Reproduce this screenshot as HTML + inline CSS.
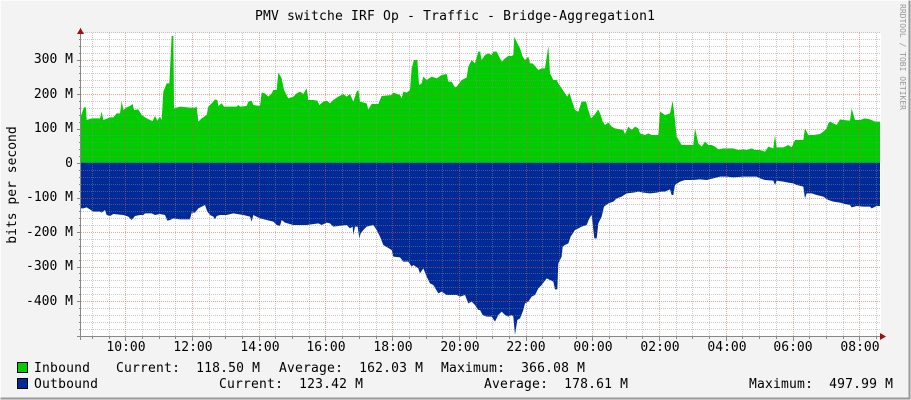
<!DOCTYPE html>
<html><head><meta charset="utf-8"><style>
html,body{margin:0;padding:0;background:#f3f3f3}
svg{display:block}
text{font-family:"DejaVu Sans Mono","Liberation Mono",monospace;font-size:13px;fill:#000;white-space:pre}
</style></head><body>
<svg width="911" height="400" viewBox="0 0 911 400" xmlns="http://www.w3.org/2000/svg" xml:space="preserve">
<rect x="0" y="0" width="911" height="400" fill="#f3f3f3"/>
<path d="M0.5 399.5V0.5H910.5" fill="none" stroke="#fcfcfc"/>
<path d="M0.5 398.5H909.5V0.5" fill="none" stroke="#9a9a9a" stroke-width="2"/>
<rect x="81" y="33" width="800" height="303" fill="#fff"/>
<g transform="translate(80,30) scale(0.33333)">
<polygon fill="#00cc00" points="0,398 0,265 12,232 18,232 20,270 35,265 60,265 65,245 70,270 90,262 100,262 110,250 120,250 125,213 130,240 140,232 150,228 158,222 162,240 175,238 185,255 195,262 210,270 218,273 225,258 232,272 240,260 245,270 250,185 260,160 268,160 275,18 280,18 282,235 300,230 330,233 345,233 350,230 355,275 365,265 380,255 385,230 395,220 405,208 412,210 415,228 425,220 432,230 470,230 475,225 480,230 500,228 505,215 515,212 520,225 540,228 545,188 555,190 565,200 575,190 580,180 590,180 595,128 605,145 612,180 625,205 640,200 650,190 660,185 670,192 680,175 685,210 700,210 712,212 718,225 730,215 740,212 750,220 760,210 775,200 790,192 800,200 810,192 820,215 830,185 835,180 840,215 860,220 865,238 875,222 895,222 905,198 935,195 940,188 960,195 965,205 970,185 980,188 990,180 995,115 1002,90 1012,90 1017,165 1025,160 1030,140 1040,150 1055,140 1070,145 1085,135 1100,132 1105,155 1115,155 1125,172 1130,170 1145,150 1160,143 1165,110 1175,90 1185,100 1195,65 1201,65 1201,398"/>
<polygon fill="#002a97" points="0,398 0,535 10,535 20,532 40,545 60,545 65,548 75,540 80,555 90,558 100,552 130,555 145,560 155,570 165,558 180,555 190,555 195,550 215,550 225,555 240,552 255,555 262,572 270,570 280,565 300,568 330,568 335,548 345,548 355,535 375,525 382,545 390,555 400,560 405,568 410,558 420,555 440,555 460,550 490,555 510,560 515,575 520,555 540,565 560,570 580,575 590,585 600,588 605,570 615,578 640,585 680,585 715,580 725,585 740,578 750,580 760,590 800,585 810,595 818,590 820,615 825,590 833,590 838,625 842,610 850,600 860,590 880,585 890,600 900,620 910,645 935,660 940,680 960,682 970,695 985,695 995,710 1000,705 1015,715 1020,730 1030,715 1040,740 1050,760 1060,765 1075,790 1085,785 1100,795 1130,795 1140,800 1155,795 1165,820 1175,815 1185,825 1195,840 1201,840 1201,398"/>
</g>
<g transform="translate(480,30) scale(0.33333)">
<polygon fill="#00cc00" points="0,398 0,65 5,90 15,75 25,70 35,75 40,65 50,65 60,85 65,95 75,85 85,78 95,78 100,75 103,20 112,40 120,55 128,80 135,90 145,80 150,100 158,100 175,120 185,115 195,115 205,48 210,130 220,150 230,150 235,160 245,175 255,190 262,200 268,188 275,210 285,240 295,245 305,215 318,215 325,240 333,265 343,255 355,238 362,255 368,275 375,285 385,278 395,290 405,295 420,298 430,300 435,312 445,290 455,300 465,290 475,295 480,310 495,315 505,310 515,315 535,315 540,245 555,255 570,250 578,213 582,245 590,320 605,345 640,345 645,295 655,340 665,350 675,335 685,345 695,345 705,350 715,358 730,355 745,355 760,355 775,360 790,358 800,360 815,355 825,360 840,360 855,365 865,350 880,355 885,315 890,352 910,352 925,345 935,352 945,330 955,330 970,330 975,295 985,315 1000,315 1020,312 1030,305 1040,295 1045,280 1050,275 1060,280 1070,285 1080,268 1090,270 1110,272 1115,235 1125,270 1140,270 1155,265 1170,268 1185,275 1200,275 1200,398"/>
<polygon fill="#002a97" points="0,398 0,840 8,855 20,860 35,860 45,875 55,855 65,845 75,855 85,860 95,855 100,860 105,915 112,870 120,865 130,840 135,820 145,815 155,800 165,795 175,775 185,765 200,745 210,750 220,755 225,778 232,778 235,700 245,680 248,650 255,645 265,640 272,620 285,600 295,595 305,590 320,585 328,565 335,555 343,625 350,625 355,580 365,560 372,530 385,520 400,515 410,505 425,500 440,490 460,488 475,485 490,488 510,490 530,488 545,485 555,485 570,478 575,495 580,495 585,465 600,455 615,450 640,450 660,448 680,450 700,445 720,440 740,440 760,442 790,440 810,440 830,440 840,445 855,450 880,452 885,465 890,452 910,455 925,458 940,460 950,465 970,470 975,505 980,490 995,490 1010,495 1030,500 1045,510 1060,515 1080,518 1095,522 1110,525 1115,532 1130,528 1150,530 1170,530 1175,535 1190,528 1200,528 1200,398"/>
</g>
<g id="grid" stroke-dasharray="1,1" stroke-width="1"></g>
<g id="ticks"></g>
<script>
(function(){
var g=document.getElementById('grid'),ax=document.getElementById('ticks'),ns='http://www.w3.org/2000/svg';
function L(p,x1,y1,x2,y2,c){var l=document.createElementNS(ns,'line');l.setAttribute('x1',x1);l.setAttribute('y1',y1);l.setAttribute('x2',x2);l.setAttribute('y2',y2);l.setAttribute('stroke',c);p.appendChild(l);}
for(var v=-480;v<=380;v+=20){var y=Math.round(163-v*0.345)+0.5;if(v%100==0)continue;L(g,81,y,881,y,'rgba(140,140,140,0.45)');}
for(var k=-2;k<=46;k++){var x=Math.round(125.3+k*16.68)+0.5;if(x<82||x>881)continue;if(k%4==0)continue;L(g,x,33,x,336,'rgba(140,140,140,0.45)');}
for(var v=-400;v<=300;v+=100){if(v==0)continue;var y=Math.round(163-v*0.345)+0.5;L(g,81,y,881,y,'rgba(230,80,80,0.55)');}
for(var k=0;k<=11;k++){var x=Math.round(125.3+k*66.72)+0.5;L(g,x,33,x,336,'rgba(230,80,80,0.55)');}
if(ax){
for(var k=-2;k<=46;k++){var x=Math.round(125.3+k*16.68)+0.5;if(x<82||x>881)continue;L(ax,x,336,x,k%4==0?341:339,'#888');}
for(var v=-480;v<=380;v+=20){var y=Math.round(163-v*0.345)+0.5;L(ax,v%100==0?77:79,y,81,y,'#888');}
}
})();
</script>
<line x1="80.5" y1="28" x2="80.5" y2="340" stroke="#888"/>
<line x1="77" y1="336.5" x2="884" y2="336.5" stroke="#888"/>
<polygon points="77,34 84,34 80.5,28" fill="#a01010"/>
<polygon points="880,333 880,340 886,336.5" fill="#a01010"/>
<text x="455" y="20" text-anchor="middle" textLength="400">PMV switche IRF Op - Traffic - Bridge-Aggregation1</text>
<text transform="translate(16,185) rotate(-90)" text-anchor="middle">bits per second</text>
<text transform="translate(900,4) rotate(90)" style="font-size:8px;fill:#999">RRDTOOL / TOBI OETIKER</text>
<g text-anchor="end">
<text x="73" y="63">300 M</text>
<text x="73" y="98">200 M</text>
<text x="73" y="132">100 M</text>
<text x="73" y="167">0</text>
<text x="73" y="201">-100 M</text>
<text x="73" y="236">-200 M</text>
<text x="73" y="270">-300 M</text>
<text x="73" y="305">-400 M</text>
</g>
<g text-anchor="middle">
<text x="126" y="351">10:00</text>
<text x="193" y="351">12:00</text>
<text x="260" y="351">14:00</text>
<text x="326" y="351">16:00</text>
<text x="393" y="351">18:00</text>
<text x="460" y="351">20:00</text>
<text x="526" y="351">22:00</text>
<text x="593" y="351">00:00</text>
<text x="660" y="351">02:00</text>
<text x="727" y="351">04:00</text>
<text x="793" y="351">06:00</text>
<text x="860" y="351">08:00</text>
</g>
<rect x="17.5" y="362.5" width="10" height="10" fill="#00cc00" stroke="#000"/>
<rect x="17.5" y="378.5" width="10" height="10" fill="#002a97" stroke="#000"/>
<text x="34" y="372" textLength="56">Inbound</text>
<text x="116" y="372" textLength="144">Current:  118.50 M</text>
<text x="279" y="372" textLength="144">Average:  162.03 M</text>
<text x="441" y="372" textLength="144">Maximum:  366.08 M</text>
<text x="34" y="388" textLength="64">Outbound</text>
<text x="219" y="388" textLength="144">Current:  123.42 M</text>
<text x="484" y="388" textLength="144">Average:  178.61 M</text>
<text x="749" y="388" textLength="144">Maximum:  497.99 M</text>
</svg>
</body></html>
